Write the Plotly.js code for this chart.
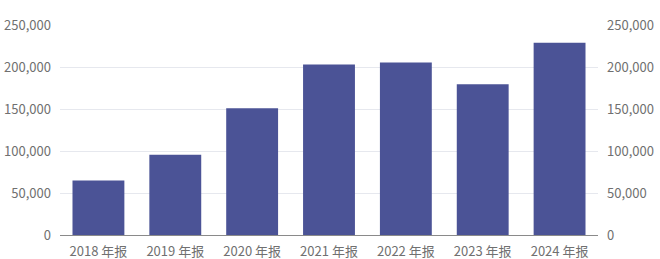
<!DOCTYPE html>
<html>
<head>
<meta charset="utf-8">
<script src="https://cdn.plot.ly/plotly-3.0.1.min.js"></script>
<style>
  html, body { margin: 0; padding: 0; background: #fff; }
  #chart { width: 660px; height: 259px; }
</style>
</head>
<body>
<div id="chart"></div>
<script>
// Annual report figures
const categories = ['2018 年报', '2019 年报', '2020 年报', '2021 年报', '2022 年报', '2023 年报', '2024 年报'];
const values = [65000, 95500, 151000, 203000, 205500, 179500, 229000];
const tickValues = [0, 50000, 100000, 150000, 200000, 250000];
const tickLabels = ['0', '50,000', '100,000', '150,000', '200,000', '250,000'];

const font = { family: '"Noto Sans CJK SC", "Noto Sans", sans-serif', size: 13, color: '#707070' };

const traces = [
  {
    type: 'bar',
    x: categories,
    y: values,
    marker: { color: '#4b5396' },
    hoverinfo: 'x+y',
    yaxis: 'y'
  },
  {
    // mirror trace so the right-hand axis is drawn with the same scale
    type: 'bar',
    x: categories,
    y: values,
    marker: { color: 'rgba(0,0,0,0)' },
    hoverinfo: 'skip',
    yaxis: 'y2',
    showlegend: false
  }
];

const yCommon = {
  range: [0, 250000],
  tickvals: tickValues,
  ticktext: tickLabels,
  tickfont: font,
  showline: false,
  zeroline: false,
  ticks: '',
  ticklabelstandoff: 8
};

const layout = {
  width: 660,
  height: 259,
  margin: { l: 60, r: 62, t: 25, b: 24 },
  paper_bgcolor: '#ffffff',
  plot_bgcolor: '#ffffff',
  showlegend: false,
  barmode: 'overlay',
  bargap: 0.325,
  font: font,
  xaxis: {
    type: 'category',
    tickfont: font,
    showline: true,
    linecolor: '#8a8a8a',
    linewidth: 1,
    ticks: '',
    ticklabelstandoff: 4,
    showgrid: false
  },
  yaxis: Object.assign({}, yCommon, {
    side: 'left',
    showgrid: true,
    gridcolor: '#e6e8ee',
    gridwidth: 1
  }),
  yaxis2: Object.assign({}, yCommon, {
    side: 'right',
    overlaying: 'y',
    showgrid: false
  })
};

Plotly.newPlot('chart', traces, layout, { staticPlot: true, displayModeBar: false });
</script>
</body>
</html>
